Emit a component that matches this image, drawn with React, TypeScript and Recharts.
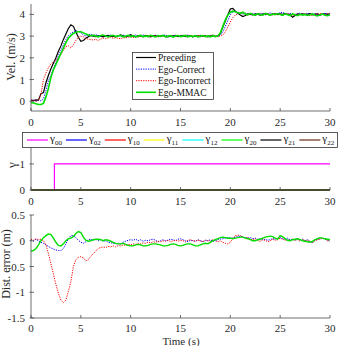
import React from 'react';
import { LineChart, Line, XAxis, YAxis } from 'recharts';

// Sample period of the logged signals (s)
const SAMPLE_STEP = 0.25;

// Velocity (m/s), one row per 5 s of logging
const PRECEDING_VEL = [
  0.05, 0.03, 0.06, 0.05, 0.35, 0.4, 0.85, 1.2, 1.5, 1.75, 2.0, 2.3, 2.55, 2.85, 3.1, 3.35, 3.52, 3.45, 3.2, 2.95,
  2.76, 2.8, 2.9, 2.97, 3.03, 3.0, 2.98, 3.02, 3.0, 2.97, 3.01, 3.03, 2.99, 3.0, 2.97, 3.02, 3.06, 3.0, 2.98, 3.01,
  3.07, 3.0, 2.97, 3.02, 3.0, 2.98, 3.03, 3.0, 2.97, 3.01, 3.02, 2.98, 3.0, 3.03, 2.99, 2.97, 3.01, 3.0, 3.02, 2.98,
  3.0, 3.03, 2.98, 3.0, 3.02, 2.97, 3.01, 3.0, 2.98, 3.02, 3.0, 2.97, 3.01, 3.03, 2.99, 3.0, 3.12, 3.42, 3.7, 3.98,
  4.25, 4.28, 4.15, 4.05, 3.97, 3.9, 3.95, 4.02, 4.0, 3.98, 4.03, 4.0, 3.97, 4.02, 4.05, 4.0, 3.98, 4.01, 4.03, 3.99,
  4.02, 4.0, 4.05, 4.01, 3.98, 3.87, 3.95, 4.02, 4.0, 4.03, 3.99, 4.01, 4.04, 3.98, 4.0, 4.02, 3.97, 4.01, 4.03, 4.0,
  4.02,
];
const CORRECT_VEL = [
  0.02, 0.05, 0.0, 0.03, 0.02, 0.1, 0.5, 0.95, 1.2, 1.5, 1.8, 2.1, 2.35, 2.6, 2.85, 3.02, 3.12, 3.2, 3.25, 3.22,
  3.15, 3.05, 3.0, 3.05, 3.08, 3.04, 3.06, 3.02, 3.0, 3.03, 2.98, 3.02, 3.05, 3.0, 2.97, 3.03, 3.0, 3.04, 2.99, 3.02,
  3.0, 3.03, 3.05, 2.98, 3.02, 3.06, 3.0, 2.97, 3.03, 3.01, 3.04, 3.0, 2.98, 3.03, 3.05, 3.0, 2.97, 3.02, 3.04, 3.0,
  3.02, 2.98, 3.03, 3.05, 3.0, 2.98, 3.03, 3.01, 3.04, 2.99, 3.02, 3.0, 3.03, 2.98, 3.0, 3.02, 3.05, 3.2, 3.45, 3.72,
  3.98, 4.12, 4.15, 4.1, 4.05, 4.02, 4.06, 4.0, 4.03, 4.05, 3.99, 4.02, 4.06, 4.01, 3.98, 4.03, 4.07, 4.02, 4.0, 4.04,
  4.08, 4.1, 4.03, 4.0, 4.05, 4.02, 3.98, 4.03, 4.06, 4.0, 4.02, 4.05, 3.99, 4.01, 4.04, 4.0, 3.98, 4.02, 4.05, 4.01,
  4.03,
];
const INCORRECT_VEL = [
  0.05, 0.03, 0.0, 0.05, 0.3, 1.0, 1.3, 1.55, 1.72, 1.8, 1.88, 2.0, 2.15, 2.35, 2.52, 2.55, 2.45, 2.6, 2.8, 2.95,
  3.0, 2.97, 2.9, 2.86, 2.84, 2.82, 2.85, 2.8, 2.87, 2.9, 2.88, 2.92, 2.95, 2.9, 2.93, 2.9, 2.88, 2.93, 2.92, 2.95,
  2.96, 2.93, 2.98, 2.95, 3.0, 2.97, 3.02, 2.96, 3.0, 2.98, 3.03, 2.97, 3.0, 3.02, 2.96, 2.99, 3.03, 3.0, 2.97, 3.02,
  2.98, 3.02, 3.0, 2.96, 3.03, 3.0, 2.97, 3.02, 3.04, 2.99, 3.01, 2.98, 3.02, 3.05, 3.0, 2.97, 3.02, 3.05, 3.2, 3.42,
  3.65, 3.85, 3.97, 4.04, 4.08, 4.05, 4.0, 3.97, 4.02, 4.0, 3.96, 4.01, 4.03, 3.98, 4.0, 4.04, 3.99, 3.97, 4.02, 4.0,
  4.03, 3.98, 4.0, 4.04, 3.97, 3.96, 4.0, 4.02, 3.98, 4.01, 4.03, 3.97, 3.95, 3.98, 4.02, 4.0, 4.05, 4.02, 3.98, 4.03,
  4.06,
];
const MMAC_VEL = [
  -0.05, -0.08, -0.12, -0.15, -0.15, -0.1, 0.2, 0.6, 1.1, 1.45, 1.7, 1.95, 2.2, 2.45, 2.7, 2.9, 3.02, 3.12, 3.18, 3.2,
  3.2, 3.15, 3.1, 3.05, 3.02, 3.04, 3.0, 2.97, 3.03, 3.05, 3.0, 2.96, 3.02, 3.04, 2.98, 3.01, 3.03, 2.97, 3.0, 3.04,
  2.98, 3.02, 2.96, 3.0, 3.03, 2.97, 3.01, 2.98, 3.04, 3.0, 2.96, 3.02, 2.99, 3.03, 2.97, 3.0, 3.02, 2.96, 3.01, 3.03,
  2.98, 3.0, 3.03, 2.97, 3.01, 2.98, 3.02, 2.96, 3.0, 3.03, 2.98, 3.01, 2.97, 3.02, 2.98, 3.01, 3.15, 3.45, 3.75, 3.98,
  4.1, 4.15, 4.12, 4.08, 4.05, 4.1, 4.02, 3.98, 4.05, 4.0, 3.96, 4.03, 4.0, 3.97, 4.04, 4.01, 3.97, 4.02, 3.99, 4.04,
  4.0, 3.96, 4.03, 3.99, 3.95, 4.02, 3.98, 3.94, 4.01, 3.97, 4.0, 3.95, 3.98, 4.02, 3.96, 3.93, 3.99, 4.02, 3.96, 3.94,
  3.98,
];

// Distance error (m)
const CORRECT_ERR = [
  0.02, -0.01, 0.03, 0.0, -0.03, -0.05, -0.08, -0.11, -0.14, -0.16, -0.18, -0.19, -0.19, -0.15, -0.06, 0.04, 0.1, 0.1, 0.06, 0.01,
  -0.03, -0.05, -0.02, 0.02, 0.03, 0.01, 0.03, 0.0, 0.02, -0.01, 0.0, -0.03, -0.04, -0.05, -0.06, -0.05, -0.06, -0.03, -0.01, 0.01,
  0.02, 0.01, 0.03, 0.0, 0.02, -0.01, 0.01, 0.0, 0.02, 0.03, 0.01, -0.02, 0.0, 0.02, 0.0, 0.01, 0.03, 0.02, 0.0, 0.03,
  0.04, 0.02, 0.0, -0.02, 0.01, 0.0, -0.01, 0.02, 0.0, -0.02, 0.01, 0.0, 0.02, -0.01, 0.0, 0.02, 0.03, 0.04, 0.05, 0.06,
  0.06, 0.05, 0.07, 0.08, 0.09, 0.07, 0.06, 0.05, 0.06, 0.04, 0.05, 0.03, 0.04, 0.02, 0.03, 0.01, 0.02, 0.04, 0.03, 0.05,
  0.06, 0.04, 0.03, 0.05, 0.02, 0.03, 0.01, 0.04, 0.02, 0.03, 0.0, 0.02, -0.01, -0.04, 0.01, 0.03, 0.04, 0.05, 0.03, 0.01,
  0.0,
];
const INCORRECT_ERR = [
  0.03, 0.01, 0.04, 0.02, 0.03, 0.0, -0.08, -0.25, -0.45, -0.65, -0.85, -1.02, -1.15, -1.2, -1.15, -0.98, -0.8, -0.5, -0.37, -0.32,
  -0.31, -0.33, -0.39, -0.37, -0.3, -0.25, -0.2, -0.15, -0.13, -0.12, -0.13, -0.11, -0.12, -0.1, -0.12, -0.09, -0.1, -0.08, -0.09, -0.07,
  -0.08, -0.06, -0.07, -0.05, -0.06, -0.04, -0.05, -0.03, -0.04, -0.02, -0.03, -0.01, -0.02, 0.0, -0.01, 0.01, -0.02, 0.0, 0.01, -0.01,
  0.01, 0.0, -0.02, 0.01, 0.02, 0.0, -0.01, 0.01, 0.0, -0.02, 0.01, 0.0, -0.01, 0.02, 0.0, -0.02, 0.0, -0.03, -0.05, -0.06,
  -0.03, 0.04, 0.1, 0.11, 0.1, 0.08, 0.05, 0.06, 0.03, 0.02, 0.04, 0.0, -0.01, 0.02, 0.01, -0.02, 0.0, 0.03, 0.01, 0.02,
  0.05, 0.03, 0.01, 0.02, 0.0, 0.03, 0.01, 0.02, -0.01, 0.02, 0.0, 0.01, -0.02, -0.03, 0.0, 0.02, 0.03, 0.05, 0.03, 0.0,
  -0.01,
];
const MMAC_ERR = [
  -0.2, -0.19, -0.15, -0.08, 0.0, 0.06, 0.1, 0.13, 0.12, 0.05, -0.03, -0.09, -0.1, -0.06, 0.0, 0.04, 0.05, 0.08, 0.14, 0.18,
  0.16, 0.07, 0.01, -0.01, 0.0, 0.02, 0.03, 0.03, 0.02, 0.0, 0.02, 0.01, -0.01, -0.03, -0.05, -0.06, -0.06, -0.05, -0.07, -0.09,
  -0.1, -0.1, -0.08, -0.07, -0.08, -0.1, -0.1, -0.09, -0.07, -0.06, -0.06, -0.07, -0.08, -0.1, -0.1, -0.09, -0.07, -0.06, -0.07, -0.09,
  -0.1, -0.09, -0.07, -0.06, -0.06, -0.08, -0.1, -0.1, -0.08, -0.06, -0.05, -0.06, -0.03, 0.0, 0.02, 0.04, 0.06, 0.07, 0.06, 0.05,
  0.05, 0.04, 0.05, 0.06, 0.07, 0.07, 0.05, 0.04, 0.02, 0.0, 0.0, 0.02, 0.03, 0.05, 0.07, 0.08, 0.09, 0.08, 0.05, 0.03,
  0.1, 0.08, 0.04, 0.01, 0.0, 0.02, 0.03, 0.04, 0.02, 0.0, -0.01, -0.02, -0.03, -0.01, 0.02, 0.04, 0.06, 0.05, 0.04, 0.03,
  0.02,
];

// Mode-probability weights: gamma_00 switches on at 2.35 s, the rest stay at zero
const GAMMA_TIME = [0, 2.35, 2.35, 30];
const GAMMA_00 = [0, 0, 1, 1];
const GAMMA_OTHER = [0, 0, 0, 0];
const GAMMA_KEYS = ['00', '02', '10', '11', '12', '20', '21', '22'];
const GAMMA_COLORS = ['#ff00ff', '#0000ff', '#ff0000', '#ffff00', '#00ffff', '#00ff00', '#000000', '#6b2a18'];

// Axis ticks
const TIME_TICKS = [0, 5, 10, 15, 20, 25, 30];
const VEL_TICKS = [0, 1, 2, 3, 4];
const GAMMA_TICKS = [0, 1];
const ERR_TICKS = [-1.5, -1, -0.5, 0, 0.5];

const FONT = '"Liberation Serif", "Times New Roman", serif';
const AXIS_COLOR = '#4a4a4a';
const TEXT_COLOR = '#2a2a2a';

const SERIES = [
  { key: 'preceding', name: 'Preceding', color: '#000000', width: 1.2, dash: undefined as string | undefined },
  { key: 'correct', name: 'Ego-Correct', color: '#0000ff', width: 1, dash: '1.2 1.2' },
  { key: 'incorrect', name: 'Ego-Incorrect', color: '#ff0000', width: 1, dash: '1.2 1.2' },
  { key: 'mmac', name: 'Ego-MMAC', color: '#00dd00', width: 1.6, dash: undefined as string | undefined },
];

const velRows = PRECEDING_VEL.map((v, i) => ({
  t: i * SAMPLE_STEP,
  preceding: v,
  correct: CORRECT_VEL[i],
  incorrect: INCORRECT_VEL[i],
  mmac: MMAC_VEL[i],
}));

const errRows = CORRECT_ERR.map((v, i) => ({
  t: i * SAMPLE_STEP,
  correct: v,
  incorrect: INCORRECT_ERR[i],
  mmac: MMAC_ERR[i],
}));

const gammaRows = GAMMA_TIME.map((t, i) => {
  const row: Record<string, number> = { t };
  GAMMA_KEYS.forEach((k) => {
    row['g' + k] = k === '00' ? GAMMA_00[i] : GAMMA_OTHER[i];
  });
  return row;
});

// Inward-pointing ticks in the style of a boxed scientific plot
const bottomTick = (gap: number) => (p: any) => (
  <g>
    <line x1={p.x} y1={p.y} x2={p.x} y2={p.y - 3} stroke={AXIS_COLOR} strokeWidth={0.8} />
    <text x={p.x} y={p.y + gap} textAnchor="middle" fontSize={11} fontFamily={FONT} fill={TEXT_COLOR}>
      {p.payload.value}
    </text>
  </g>
);
const topTick = (p: any) => (
  <line x1={p.x} y1={p.y} x2={p.x} y2={p.y + 3} stroke={AXIS_COLOR} strokeWidth={0.8} />
);
const leftTick = (p: any) => (
  <g>
    <line x1={p.x - 1.5} y1={p.y} x2={p.x + 3} y2={p.y} stroke={AXIS_COLOR} strokeWidth={0.8} />
    <text x={p.x - 6} y={p.y + 4} textAnchor="end" fontSize={11} fontFamily={FONT} fill={TEXT_COLOR}>
      {p.payload.value}
    </text>
  </g>
);
const rightTick = (p: any) => (
  <line x1={p.x} y1={p.y} x2={p.x - 3} y2={p.y} stroke={AXIS_COLOR} strokeWidth={0.8} />
);

const axisLine = { stroke: AXIS_COLOR, strokeWidth: 0.8 };

const yTitle = (text: string, x: number, y: number, size = 12) => () => (
  <text
    x={x}
    y={y}
    transform={`rotate(-90 ${x} ${y})`}
    textAnchor="middle"
    fontSize={size}
    fontFamily={FONT}
    fill={TEXT_COLOR}
  >
    {text}
  </text>
);

function App() {
  return (
    <div style={{ position: 'absolute', left: 0, top: 0, width: 341, height: 346, background: '#fff', overflow: 'hidden', fontFamily: FONT }}>
      {/* Velocity panel */}
      <div style={{ position: 'absolute', left: 0, top: 0 }}>
        <LineChart width={341} height={130} data={velRows} margin={{ top: 4, right: 11, bottom: 0, left: 0 }}>
          <XAxis dataKey="t" type="number" domain={[0, 30]} ticks={TIME_TICKS} interval={0} height={19}
            tickLine={false} tickSize={0} tickMargin={0} axisLine={axisLine} tick={bottomTick(15)} allowDataOverflow />
          <XAxis xAxisId="top" orientation="top" dataKey="t" type="number" domain={[0, 30]} ticks={TIME_TICKS}
            interval={0} height={0} tickLine={false} tickSize={0} tickMargin={0} axisLine={axisLine} tick={topTick} />
          <YAxis type="number" domain={[-0.45, 4.48]} ticks={VEL_TICKS} interval={0} width={31} tickLine={false}
            tickSize={0} tickMargin={0} axisLine={axisLine} tick={leftTick} allowDataOverflow
            label={{ content: yTitle('Vel. (m/s)', 15, 57) }} />
          <YAxis yAxisId="right" orientation="right" type="number" domain={[-0.45, 4.48]} ticks={VEL_TICKS}
            interval={0} width={0} tickLine={false} tickSize={0} tickMargin={0} axisLine={axisLine} tick={rightTick} />
          {SERIES.map((s) => (
            <Line key={s.key} dataKey={s.key} name={s.name} type="linear" stroke={s.color} strokeWidth={s.width}
              strokeDasharray={s.dash} dot={false} activeDot={false} isAnimationActive={false} />
          ))}
        </LineChart>
      </div>
      <svg style={{ position: 'absolute', left: 132, top: 52 }} width={82} height={48}>
        <rect x={0.5} y={0.5} width={81} height={47} fill="#fff" stroke="#333" strokeWidth={0.8} />
        {SERIES.map((s, i) => {
          const cy = 5.5 + i * 11.6;
          return (
            <g key={s.key}>
              <line x1={4} y1={cy} x2={24} y2={cy} stroke={s.color} strokeWidth={s.width} strokeDasharray={s.dash} />
              <text x={26} y={cy + 3.5} fontSize={9.5} fontFamily={FONT} fill="#111">{s.name}</text>
            </g>
          );
        })}
      </svg>

      {/* Mode weights panel */}
      <div style={{ position: 'absolute', left: 0, top: 140 }}>
        <LineChart width={341} height={70} data={gammaRows} margin={{ top: 7, right: 11, bottom: 0, left: 0 }}>
          <XAxis dataKey="t" type="number" domain={[0, 30]} ticks={TIME_TICKS} interval={0} height={20}
            tickLine={false} tickSize={0} tickMargin={0} axisLine={axisLine} tick={bottomTick(15)} />
          <YAxis type="number" domain={[0, 1.65]} ticks={GAMMA_TICKS} interval={0} width={31} tickLine={false}
            tickSize={0} tickMargin={0} axisLine={axisLine} tick={leftTick}
            label={{ content: yTitle('γ', 16, 25, 13) }} />
          <YAxis yAxisId="right" orientation="right" type="number" domain={[0, 1.65]} ticks={GAMMA_TICKS}
            interval={0} width={0} tickLine={false} tickSize={0} tickMargin={0} axisLine={axisLine} tick={rightTick} />
          {GAMMA_KEYS.map((k, i) => (
            <Line key={k} dataKey={'g' + k} type="linear" stroke={GAMMA_COLORS[i]} strokeWidth={1.2}
              dot={false} activeDot={false} isAnimationActive={false} />
          ))}
        </LineChart>
      </div>
      <svg style={{ position: 'absolute', left: 22, top: 132 }} width={316} height={16}>
        <rect x={0.5} y={0.5} width={315} height={15} fill="#fff" stroke="#333" strokeWidth={0.8} />
        {GAMMA_KEYS.map((k, i) => {
          const x0 = 5 + i * 38.9;
          return (
            <g key={k}>
              <line x1={x0} y1={8} x2={x0 + 21} y2={8} stroke={GAMMA_COLORS[i]} strokeWidth={1.2} />
              <text x={x0 + 23} y={10} fontSize={11} fontFamily={FONT} fill="#111">
                γ<tspan fontSize={7} dy={2.5}>{k}</tspan>
              </text>
            </g>
          );
        })}
      </svg>

      {/* Distance error panel */}
      <div style={{ position: 'absolute', left: 0, top: 205 }}>
        <LineChart width={341} height={141} data={errRows} margin={{ top: 10, right: 11, bottom: 0, left: 0 }}>
          <XAxis dataKey="t" type="number" domain={[0, 30]} ticks={TIME_TICKS} interval={0} height={28}
            tickLine={false} tickSize={0} tickMargin={0} axisLine={axisLine} tick={bottomTick(14)}
            label={{ content: () => (
              <text x={181} y={139.5} textAnchor="middle" fontSize={11} fontFamily={FONT} fill={TEXT_COLOR}>Time (s)</text>
            ) }} />
          <XAxis xAxisId="top" orientation="top" dataKey="t" type="number" domain={[0, 30]} ticks={TIME_TICKS}
            interval={0} height={0} tickLine={false} tickSize={0} tickMargin={0} axisLine={axisLine} tick={topTick} />
          <YAxis type="number" domain={[-1.5, 0.5]} ticks={ERR_TICKS} interval={0} width={31} tickLine={false}
            tickSize={0} tickMargin={0} axisLine={axisLine} tick={leftTick} allowDataOverflow
            label={{ content: yTitle('Dist. error (m)', 10, 59) }} />
          <YAxis yAxisId="right" orientation="right" type="number" domain={[-1.5, 0.5]} ticks={ERR_TICKS}
            interval={0} width={0} tickLine={false} tickSize={0} tickMargin={0} axisLine={axisLine} tick={rightTick} />
          {SERIES.slice(1).map((s) => (
            <Line key={s.key} dataKey={s.key} name={s.name} type="linear" stroke={s.color}
              strokeWidth={s.key === 'mmac' ? 1.4 : 1} strokeDasharray={s.dash} dot={false} activeDot={false}
              isAnimationActive={false} />
          ))}
        </LineChart>
      </div>
    </div>
  );
}

export default App;
